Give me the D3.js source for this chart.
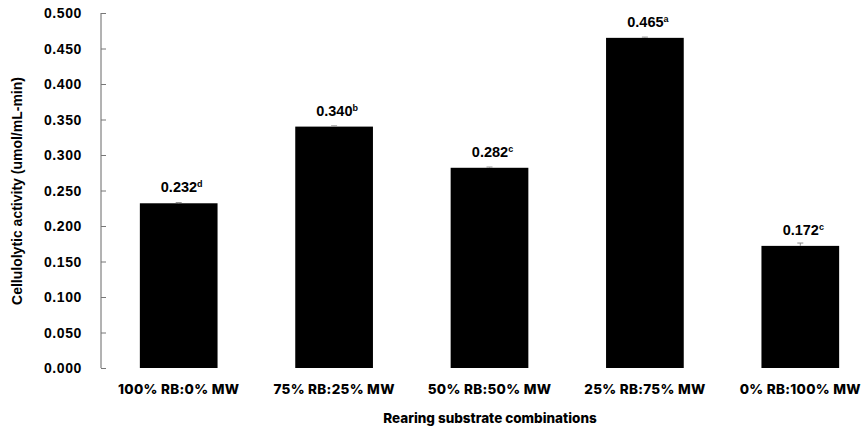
<!DOCTYPE html>
<meta charset="utf-8" />
<script src="https://d3js.org/d3.v7.min.js"></script>
<style>
  body { margin: 0; background: #fff; }
</style>
<div id="bar_chart"></div>
<script>
  // chart data
  const categories = ["100% RB:0% MW", "75% RB:25% MW", "50% RB:50% MW", "25% RB:75% MW", "0% RB:100% MW"];
  const activity = [0.232, 0.340, 0.282, 0.465, 0.172];
  const errors = [0.001, 0.001, 0.001, 0.001, 0.004];
  const letters = ["d", "b", "c", "a", "c"];
  const yTicks = [0, 0.05, 0.1, 0.15, 0.2, 0.25, 0.3, 0.35, 0.4, 0.45, 0.5];

  const width = 863, height = 429;
  const svg = d3.select("#bar_chart")
    .append("svg")
    .attr("width", width)
    .attr("height", height);

  const y = d3.scaleLinear().domain([0, 0.5]).range([368, 13]);
  const x = d3.scaleBand()
    .domain(categories)
    .range([101, 878])
    .paddingInner(0.5)
    .paddingOuter(0.25);

  // y axis: ticks pointing inward
  const yAxis = svg.append("g")
    .attr("transform", "translate(101,0)")
    .call(d3.axisRight(y).tickValues(yTicks).tickSize(5).tickFormat(""));
  yAxis.select(".domain").attr("stroke", "#666").attr("d", `M0,${y(0)}V${y(0.5)}`);
  yAxis.selectAll(".tick line").attr("stroke", "#777");

  // tick labels
  svg.append("g").selectAll("text")
    .data(yTicks)
    .join("text")
    .attr("x", 82)
    .attr("y", d => y(d) + 5)
    .attr("text-anchor", "end")
    .style("font-family", "Liberation Sans, Arial, sans-serif")
    .style("font-weight", "bold")
    .style("font-size", "14px")
    .style("letter-spacing", "0.6px")
    .text(d => d3.format(".3f")(d));

  // bars
  svg.append("g").selectAll("rect")
    .data(activity)
    .join("rect")
    .attr("x", (d, i) => x(categories[i]))
    .attr("y", d => y(d))
    .attr("width", x.bandwidth())
    .attr("height", d => y(0) - y(d))
    .attr("fill", "#000");

  // error bars
  const eb = svg.append("g").attr("stroke", "#8c8c8c").attr("stroke-width", 1);
  activity.forEach((d, i) => {
    const cx = x(categories[i]) + x.bandwidth() / 2;
    eb.append("line").attr("x1", cx).attr("x2", cx).attr("y1", y(d)).attr("y2", y(d + errors[i]));
    eb.append("line").attr("x1", cx - 3).attr("x2", cx + 3).attr("y1", y(d + errors[i])).attr("y2", y(d + errors[i]));
  });

  // value labels with letters
  const labels = svg.append("g").selectAll("text")
    .data(activity)
    .join("text")
    .attr("x", (d, i) => x(categories[i]) + x.bandwidth() / 2 + 3)
    .attr("y", d => y(d) - 11)
    .attr("text-anchor", "middle")
    .style("font-family", "Liberation Sans, Arial, sans-serif")
    .style("font-weight", "bold")
    .style("font-size", "14.5px");
  labels.append("tspan").text(d => d3.format(".3f")(d));
  labels.append("tspan")
    .attr("dy", -5)
    .style("font-size", "9px")
    .text((d, i) => letters[i]);

  // category labels
  svg.append("g").selectAll("text")
    .data(categories)
    .join("text")
    .attr("x", d => x(d) + x.bandwidth() / 2)
    .attr("y", 394)
    .attr("text-anchor", "middle")
    .style("font-family", "Inter, Roboto, sans-serif")
    .style("font-weight", "800")
    .style("font-size", "13.5px")
    .style("letter-spacing", "0.3px")
    .text(d => d);

  // axis titles
  svg.append("text")
    .attr("x", 490)
    .attr("y", 423)
    .attr("text-anchor", "middle")
    .style("font-family", "Inter, Roboto, sans-serif")
    .style("font-weight", "800")
    .style("font-size", "13.5px")
    .text("Rearing substrate combinations");

  svg.append("text")
    .attr("transform", "translate(22,191) rotate(-90)")
    .attr("text-anchor", "middle")
    .style("font-family", "Liberation Sans, Arial, sans-serif")
    .style("font-weight", "bold")
    .style("font-size", "14px")
    .text("Cellulolytic activity (umol/mL-min)");
</script>
